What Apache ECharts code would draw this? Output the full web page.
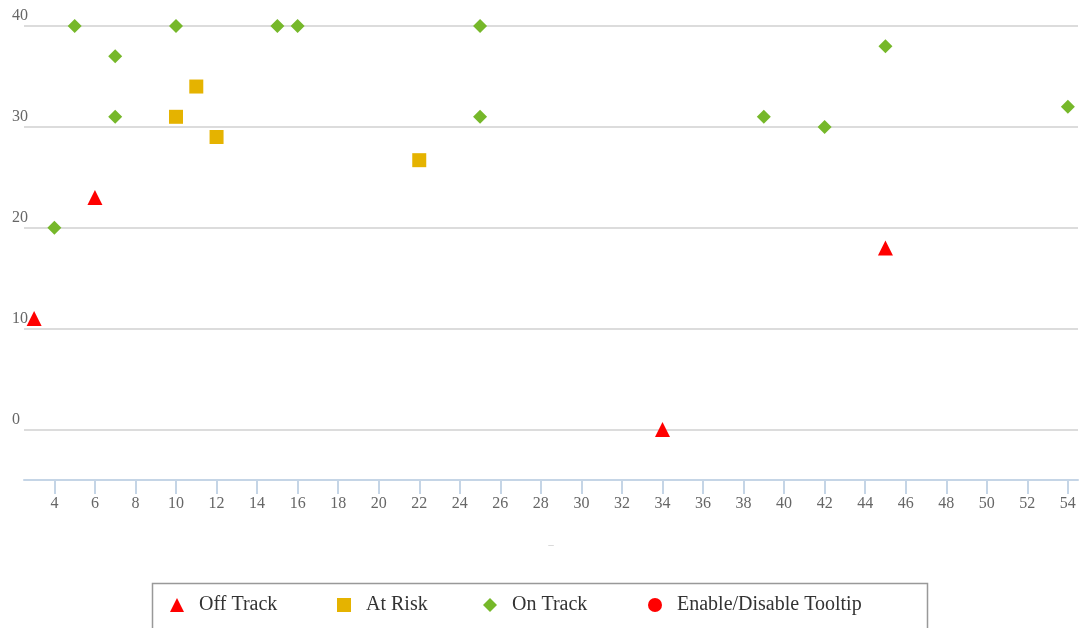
<!DOCTYPE html>
<html>
<head>
<meta charset="utf-8">
<script src="https://cdn.jsdelivr.net/npm/echarts@6/dist/echarts.min.js"></script>
<style>
  html, body { margin: 0; padding: 0; background: #fff; }
  #chart { width: 1091px; height: 628px; }
</style>
</head>
<body>
<div id="chart"></div>
<script>
// Status points: [x, y]
const offTrack = [[3, 11], [6, 23], [34, 0], [45, 18]];
const atRisk = [[10, 31], [11, 34], [12, 29], [22, 26.7]];
const onTrack = [
  [4, 20], [5, 40], [7, 37], [7, 31], [10, 40], [15, 40], [16, 40],
  [25, 40], [25, 31], [39, 31], [42, 30], [45, 38], [54, 32]
];
const xTicks = [4, 6, 8, 10, 12, 14, 16, 18, 20, 22, 24, 26, 28, 30, 32, 34, 36, 38, 40, 42, 44, 46, 48, 50, 52, 54];
const yTicks = [0, 10, 20, 30, 40];
const seriesNames = ['Off Track', 'At Risk', 'On Track', 'Enable/Disable Tooltip'];

const FONT = '"Liberation Serif", "DejaVu Serif", serif';
const RED = '#ff0000', GOLD = '#e5b300', GREEN = '#76b82a';

const chart = echarts.init(document.getElementById('chart'), null, { renderer: 'canvas' });

function legendAt(name, left) {
  return {
    data: [name],
    left: left,
    top: 595,
    padding: 0,
    itemWidth: 14,
    itemHeight: 14,
    selectedMode: false,
    textStyle: { fontFamily: FONT, fontSize: 20, color: '#333', padding: [0, 0, 0, 10] }
  };
}

chart.setOption({
  backgroundColor: '#fff',
  animation: false,
  grid: { left: 24, right: 13, top: 26, bottom: 148, containLabel: false },
  xAxis: {
    type: 'value',
    min: 2.5,
    max: 54.5,
    name: '–',
    nameLocation: 'middle',
    nameGap: 60,
    nameTextStyle: { color: '#d0d0d0', fontSize: 10 },
    axisLine: { show: true, onZero: false, lineStyle: { color: '#c5d5e6', width: 2 } },
    axisTick: { show: true, length: 14, customValues: xTicks, lineStyle: { color: '#c5d5e6', width: 2 } },
    axisLabel: { customValues: xTicks, margin: 16, fontFamily: FONT, fontSize: 16, color: '#666' },
    splitLine: { show: false }
  },
  yAxis: {
    type: 'value',
    min: -5,
    max: 40,
    axisLine: { show: false },
    axisTick: { show: false, customValues: yTicks },
    axisLabel: {
      customValues: yTicks, margin: 12, align: 'left', verticalAlign: 'bottom',
      padding: [0, 0, 2, 0], fontFamily: FONT, fontSize: 16, color: '#666'
    },
    splitLine: { show: true, lineStyle: { color: '#dcdcdc', width: 2 } }
  },
  legend: [
    legendAt(seriesNames[0], 170),
    legendAt(seriesNames[1], 337),
    legendAt(seriesNames[2], 483),
    legendAt(seriesNames[3], 648)
  ],
  graphic: [{
    type: 'rect',
    left: 150, top: 581,
    shape: { width: 775, height: 60 },
    style: { fill: 'none', stroke: '#999', lineWidth: 1.5 },
    silent: true
  }],
  series: [
    { name: seriesNames[0], type: 'scatter', symbol: 'triangle', symbolSize: 15, itemStyle: { color: RED, opacity: 1 }, data: offTrack },
    { name: seriesNames[1], type: 'scatter', symbol: 'rect', symbolSize: 14, itemStyle: { color: GOLD, opacity: 1 }, data: atRisk },
    { name: seriesNames[2], type: 'scatter', symbol: 'diamond', symbolSize: 14, itemStyle: { color: GREEN, opacity: 1 }, data: onTrack },
    { name: seriesNames[3], type: 'scatter', symbol: 'circle', symbolSize: 14, itemStyle: { color: RED, opacity: 1 }, data: [] }
  ]
});
</script>
</body>
</html>
